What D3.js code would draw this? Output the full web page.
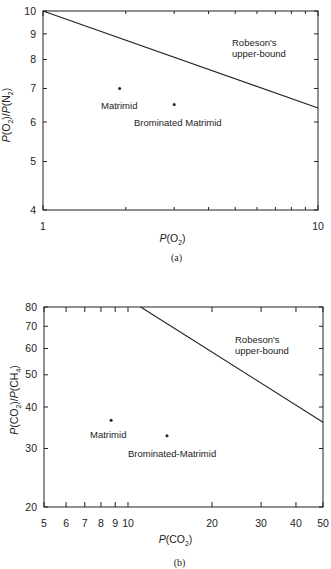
<!DOCTYPE html>
<html>
<head>
<meta charset="utf-8">
<script src="https://cdn.jsdelivr.net/npm/d3@7"></script>
<style>
    body { margin: 0; background: #fff; }
    svg { display: block; font-family: "Liberation Sans", Arial, sans-serif; }
    .tick-label { font-size: 10.5px; fill: #222; }
    .note { font-size: 9.5px; fill: #222; }
    .caption { font-family: "Liberation Serif", serif; font-size: 10px; fill: #222; }
</style>
</head>
<body>
<svg id="chart" width="331" height="569"></svg>
<script>
// Panel (a): O2/N2
const o2Ticks = [1, 10];
const o2MinorTicks = [2, 3, 4, 5, 6, 7, 8, 9];
const o2SelTicks = [4, 5, 6, 7, 8, 9, 10];
const o2Points = [
    { name: "Matrimid", p: 1.9, sel: 7.0 },
    { name: "Brominated Matrimid", p: 3.0, sel: 6.5 }
];
const o2Bound = [{ p: 1, sel: 10 }, { p: 10, sel: 6.4 }];

// Panel (b): CO2/CH4
const co2Ticks = [5, 6, 7, 8, 9, 10, 20, 30, 40, 50];
const co2SelTicks = [20, 30, 40, 50, 60, 70, 80];
const co2Points = [
    { name: "Matrimid", p: 8.7, sel: 36.5 },
    { name: "Brominated-Matrimid", p: 13.8, sel: 32.8 }
];
const co2Bound = [{ p: 11.1, sel: 80 }, { p: 50, sel: 36 }];

const svg = d3.select("#chart");
const ink = "#222";

function drawPanel(opt) {
    const x = d3.scaleLog().domain(opt.xDomain).range([opt.left, opt.right]);
    const y = d3.scaleLog().domain(opt.yDomain).range([opt.bottom, opt.top]);
    const g = svg.append("g");

    // frame
    g.append("rect")
        .attr("x", opt.left).attr("y", opt.top)
        .attr("width", opt.right - opt.left).attr("height", opt.bottom - opt.top)
        .attr("fill", "none").attr("stroke", ink).attr("stroke-width", 1);

    // x ticks, bottom and top, pointing inward
    const xt = opt.xTicks.concat(opt.xMinor);
    xt.forEach(v => {
        const len = opt.xMinor.includes(v) ? 3 : 5;
        g.append("line").attr("x1", x(v)).attr("x2", x(v))
            .attr("y1", opt.bottom).attr("y2", opt.bottom - len).attr("stroke", ink);
        g.append("line").attr("x1", x(v)).attr("x2", x(v))
            .attr("y1", opt.top).attr("y2", opt.top + len).attr("stroke", ink);
    });
    g.selectAll(null).data(opt.xTicks).enter().append("text")
        .attr("class", "tick-label")
        .attr("x", d => x(d)).attr("y", opt.bottom + 20)
        .attr("text-anchor", "middle")
        .text(d => d);

    // y ticks, left and right
    opt.yTicks.forEach(v => {
        g.append("line").attr("x1", opt.left).attr("x2", opt.left + 4)
            .attr("y1", y(v)).attr("y2", y(v)).attr("stroke", ink);
        g.append("line").attr("x1", opt.right).attr("x2", opt.right - 4)
            .attr("y1", y(v)).attr("y2", y(v)).attr("stroke", ink);
    });
    g.selectAll(null).data(opt.yTicks).enter().append("text")
        .attr("class", "tick-label")
        .attr("x", opt.left - 7).attr("y", d => y(d))
        .attr("dy", "0.35em")
        .attr("text-anchor", "end")
        .text(d => d);

    // Robeson line
    const line = d3.line().x(d => x(d.p)).y(d => y(d.sel));
    g.append("path").datum(opt.bound)
        .attr("d", line).attr("fill", "none")
        .attr("stroke", ink).attr("stroke-width", 1.1);

    // points
    g.selectAll(null).data(opt.points).enter().append("circle")
        .attr("cx", d => x(d.p)).attr("cy", d => y(d.sel))
        .attr("r", 1.5).attr("fill", ink);

    // point labels
    opt.points.forEach((d, i) => {
        g.append("text").attr("class", "note")
            .attr("x", opt.labelPos[i][0]).attr("y", opt.labelPos[i][1])
            .text(d.name);
    });

    g.append("text").attr("class", "note")
        .attr("x", opt.boundLabel[0]).attr("y", opt.boundLabel[1])
        .text("Robeson's");
    g.append("text").attr("class", "note")
        .attr("x", opt.boundLabel[0]).attr("y", opt.boundLabel[1] + 11)
        .text("upper-bound");

    // axis titles
    const xt2 = g.append("text").attr("class", "tick-label")
        .attr("x", (opt.left + opt.right) / 2 - 8).attr("y", opt.bottom + opt.xTitleDy)
        .attr("text-anchor", "middle");
    xt2.append("tspan").attr("font-style", "italic").text("P");
    xt2.append("tspan").text("(" + opt.gasX);
    xt2.append("tspan").attr("font-size", "7px").attr("dy", 3).text(opt.subX);
    xt2.append("tspan").attr("dy", -3).text(")");

    const yt = g.append("text").attr("class", "tick-label")
        .attr("transform", `translate(${opt.yTitle[0]},${opt.yTitle[1]}) rotate(-90)`)
        .attr("text-anchor", "middle");
    yt.append("tspan").attr("font-style", "italic").text("P");
    yt.append("tspan").text("(" + opt.gasA);
    yt.append("tspan").attr("font-size", "7px").attr("dy", 3).text(opt.subA);
    yt.append("tspan").attr("dy", -3).text(")/");
    yt.append("tspan").attr("font-style", "italic").text("P");
    yt.append("tspan").text("(" + opt.gasB);
    yt.append("tspan").attr("font-size", "7px").attr("dy", 3).text(opt.subB);
    yt.append("tspan").attr("dy", -3).text(")");

    g.append("text").attr("class", "caption")
        .attr("x", (opt.left + opt.right) / 2 - 4).attr("y", opt.captionY)
        .attr("text-anchor", "middle")
        .text(opt.caption);
}

drawPanel({
    left: 43, right: 318, top: 11, bottom: 210,
    xDomain: [1, 10], yDomain: [4, 10],
    xTicks: o2Ticks, xMinor: o2MinorTicks, yTicks: o2SelTicks,
    points: o2Points, bound: o2Bound,
    labelPos: [[101, 109], [134, 126]],
    boundLabel: [232, 46],
    gasX: "O", subX: "2", xTitleDy: 32,
    gasA: "O", subA: "2", gasB: "N", subB: "2",
    yTitle: [10, 115],
    caption: "(a)", captionY: 261
});

drawPanel({
    left: 44, right: 323, top: 307, bottom: 507,
    xDomain: [5, 50], yDomain: [20, 80],
    xTicks: co2Ticks, xMinor: [], yTicks: co2SelTicks,
    points: co2Points, bound: co2Bound,
    labelPos: [[90, 438], [128, 457]],
    boundLabel: [235, 343],
    gasX: "CO", subX: "2", xTitleDy: 36,
    gasA: "CO", subA: "2", gasB: "CH", subB: "4",
    yTitle: [18, 400],
    caption: "(b)", captionY: 566
});
</script>
</body>
</html>
